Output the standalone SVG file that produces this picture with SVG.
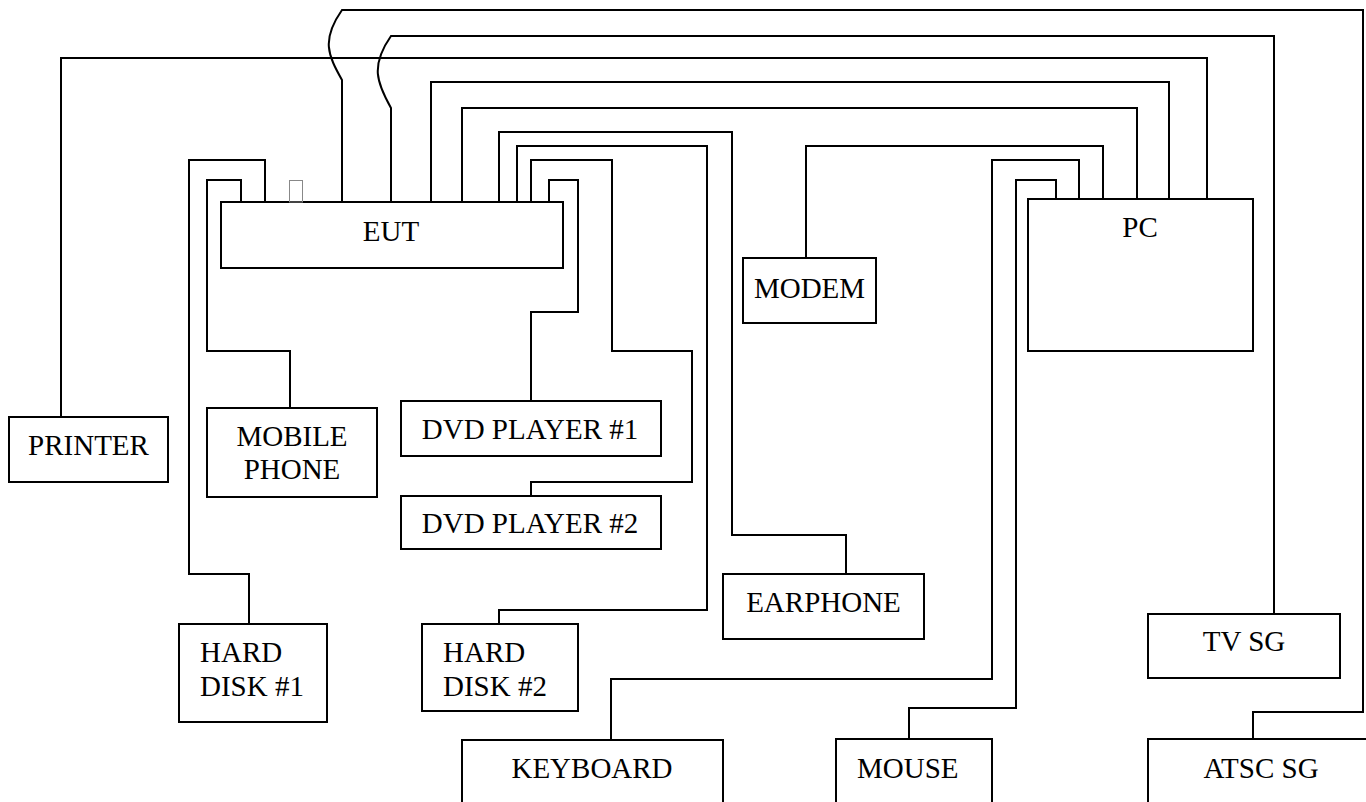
<svg xmlns="http://www.w3.org/2000/svg" width="1366" height="802" viewBox="0 0 1366 802">
<style>
.w{fill:none;stroke:#000;stroke-width:2;stroke-linejoin:miter}
.b{fill:#fff;stroke:#000;stroke-width:2}
text{font-family:'Liberation Serif','Tinos','DejaVu Serif',serif;font-size:29px;fill:#000}
.m{text-anchor:middle}
</style>
<rect width="1366" height="802" fill="#fff"/>
<g id="connectors">
<path class="w" d="M61,417 V58 H1207 V199"/>
<path class="w" d="M342,202 V80 C328,55 321,40 342,10 H1363 V712 H1253 V739"/>
<path class="w" d="M391,202 V108 C377,83 370,66 391,36 H1274 V614"/>
<path class="w" d="M431,202 V82 H1169 V199"/>
<path class="w" d="M462,202 V108 H1137 V199"/>
<path class="w" d="M499,202 V132 H732 V535 H846 V574"/>
<path class="w" d="M517,202 V146 H707 V610 H499 V624"/>
<path class="w" d="M531,202 V160 H612 V351 H692 V482 H531 V496"/>
<path class="w" d="M549,202 V180 H578 V312 H531 V401"/>
<path class="w" d="M265,202 V160 H189 V574 H249 V624"/>
<path class="w" d="M241,202 V180 H207 V351 H290 V408"/>
<path class="w" d="M806,258 V146 H1103 V199"/>
<path class="w" d="M1079,199 V160 H992 V679 H611 V740"/>
<path class="w" d="M1056,199 V180 H1016 V708 H909 V739"/>
</g>
<g id="eut">
<rect class="b" x="221" y="202" width="342" height="66"/>
<rect x="289.5" y="180.5" width="13" height="21.5" fill="none" stroke="#888" stroke-width="1"/>
<text class="m" x="391" y="241" font-family="Liberation Serif, serif">EUT</text>
</g>
<g id="pc">
<rect class="b" x="1028" y="199" width="225" height="152"/>
<text class="m" x="1140" y="237" font-family="Liberation Serif, serif">PC</text>
</g>
<g id="modem">
<rect class="b" x="743" y="258" width="133" height="65" stroke-width="3"/>
<text class="m" x="809.5" y="298" font-family="Liberation Serif, serif">MODEM</text>
</g>
<g id="printer">
<rect class="b" x="9" y="417" width="159" height="65"/>
<text class="m" x="88.5" y="455" font-family="Liberation Serif, serif">PRINTER</text>
</g>
<g id="mobile-phone">
<rect class="b" x="207" y="408" width="170" height="89"/>
<text class="m" x="292" y="446" font-family="Liberation Serif, serif">MOBILE</text>
<text class="m" x="292" y="479" font-family="Liberation Serif, serif">PHONE</text>
</g>
<g id="dvd-player-1">
<rect class="b" x="401" y="401" width="260" height="55"/>
<text class="m" x="530" y="439" font-family="Liberation Serif, serif">DVD PLAYER #1</text>
</g>
<g id="dvd-player-2">
<rect class="b" x="401" y="496" width="260" height="53"/>
<text class="m" x="530" y="533" font-family="Liberation Serif, serif">DVD PLAYER #2</text>
</g>
<g id="hard-disk-1">
<rect class="b" x="179" y="624" width="148" height="98"/>
<text x="200" y="662" font-family="Liberation Serif, serif">HARD</text>
<text x="200" y="696" font-family="Liberation Serif, serif">DISK #1</text>
</g>
<g id="hard-disk-2">
<rect class="b" x="422" y="624" width="156" height="87"/>
<text x="443" y="662" font-family="Liberation Serif, serif">HARD</text>
<text x="443" y="696" font-family="Liberation Serif, serif">DISK #2</text>
</g>
<g id="earphone">
<rect class="b" x="723" y="574" width="201" height="65"/>
<text class="m" x="823.5" y="612" font-family="Liberation Serif, serif">EARPHONE</text>
</g>
<g id="tv-sg">
<rect class="b" x="1148" y="614" width="192" height="64"/>
<text class="m" x="1244" y="651" font-family="Liberation Serif, serif">TV SG</text>
</g>
<g id="keyboard">
<rect class="b" x="462" y="740" width="261" height="90"/>
<text class="m" x="592" y="778" font-family="Liberation Serif, serif">KEYBOARD</text>
</g>
<g id="mouse">
<rect class="b" x="836" y="739" width="156" height="90"/>
<text x="857" y="778" font-family="Liberation Serif, serif">MOUSE</text>
</g>
<g id="atsc-sg">
<rect class="b" x="1148" y="739" width="240" height="90"/>
<text class="m" x="1261" y="778" font-family="Liberation Serif, serif">ATSC SG</text>
</g>
</svg>
